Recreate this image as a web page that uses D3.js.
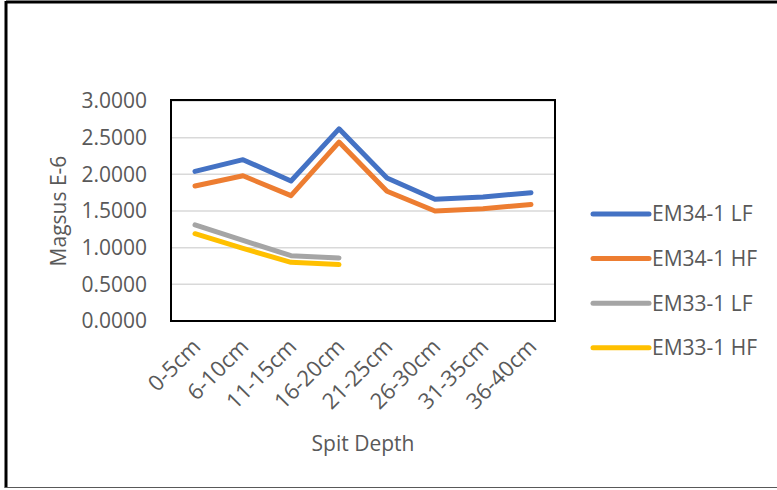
<!DOCTYPE html>
<html>
<head>
<meta charset="utf-8">
<script src="https://cdn.jsdelivr.net/npm/d3@7"></script>
<style>
  html, body { margin: 0; padding: 0; background: #fff; }
  svg { display: block; }
  text { font-family: "Open Sans", "Noto Sans", sans-serif; fill: #595959; }
</style>
</head>
<body>
<script>
// Spit depth intervals along the x axis
const depths = ["0-5cm", "6-10cm", "11-15cm", "16-20cm", "21-25cm", "26-30cm", "31-35cm", "36-40cm"];

// Magnetic susceptibility readings (E-6) per series
const em34LF = [2.04, 2.20, 1.91, 2.62, 1.95, 1.66, 1.69, 1.75];
const em34HF = [1.84, 1.98, 1.71, 2.44, 1.77, 1.50, 1.53, 1.59];
const em33LF = [1.31, 1.10, 0.89, 0.86];
const em33HF = [1.19, 0.99, 0.80, 0.77];

const seriesNames = ["EM34-1 LF", "EM34-1 HF", "EM33-1 LF", "EM33-1 HF"];
const seriesColors = ["#4472C4", "#ED7D31", "#A5A5A5", "#FFC000"];
const yTicks = [0, 0.5, 1.0, 1.5, 2.0, 2.5, 3.0];

const series = [em34LF, em34HF, em33LF, em33HF].map((vals, i) => ({
  name: seriesNames[i],
  color: seriesColors[i],
  points: vals.map((v, j) => ({ cat: depths[j], v }))
}));

const W = 777, H = 490;
const plot = { left: 171, right: 555, top: 101, bottom: 321 };

const svg = d3.select("body").append("svg").attr("width", W).attr("height", H);

// Outer chart border
svg.append("line").attr("x1", 6).attr("x2", W).attr("y1", 2).attr("y2", 2)
  .attr("stroke", "#000").attr("stroke-width", 3);
svg.append("line").attr("x1", 6).attr("x2", 6).attr("y1", 1).attr("y2", 488)
  .attr("stroke", "#000").attr("stroke-width", 3);
svg.append("line").attr("x1", 5).attr("x2", W).attr("y1", 487.5).attr("y2", 487.5)
  .attr("stroke", "#595959").attr("stroke-width", 1);

const x = d3.scaleBand().domain(depths).range([plot.left, plot.right]);
const y = d3.scaleLinear().domain([0, 3]).range([plot.bottom, plot.top]);
const cx = c => x(c) + x.bandwidth() / 2;

// Horizontal gridlines
svg.append("g").selectAll("line").data(yTicks.filter(t => t > 0)).join("line")
  .attr("x1", plot.left).attr("x2", plot.right)
  .attr("y1", d => y(d)).attr("y2", d => y(d))
  .attr("stroke", "#D9D9D9").attr("stroke-width", 1.5);

// Y axis tick labels
const yAxis = d3.axisLeft(y).tickValues(yTicks).tickFormat(d3.format(".4f")).tickSize(0).tickPadding(0);
const gy = svg.append("g").attr("transform", `translate(${147},0)`).call(yAxis);
gy.select(".domain").remove();
gy.selectAll("text").attr("font-size", 21).attr("fill", "#595959")
  .style("font-family", '"Open Sans", sans-serif');

// X axis category labels, rotated
const xAxis = d3.axisBottom(x).tickSize(0).tickPadding(0);
const gx = svg.append("g").attr("transform", `translate(0,${plot.bottom})`).call(xAxis);
gx.select(".domain").remove();
gx.selectAll("text")
  .attr("font-size", 22).attr("fill", "#595959")
  .style("font-family", '"Open Sans", sans-serif')
  .attr("text-anchor", "end")
  .attr("dy", 0)
  .attr("transform", "translate(7,27) rotate(-45)");

// Plot area frame
svg.append("rect")
  .attr("x", plot.left).attr("y", plot.top - 1)
  .attr("width", plot.right - plot.left).attr("height", plot.bottom - plot.top + 1)
  .attr("fill", "none").attr("stroke", "#000").attr("stroke-width", 2);

// Series lines
const line = d3.line().x(d => cx(d.cat)).y(d => y(d.v));
svg.append("g").selectAll("path").data(series).join("path")
  .attr("d", d => line(d.points))
  .attr("fill", "none")
  .attr("stroke", d => d.color)
  .attr("stroke-width", 5)
  .attr("stroke-linejoin", "round")
  .attr("stroke-linecap", "round");

// Axis titles
svg.append("text")
  .attr("x", (plot.left + plot.right) / 2).attr("y", 451)
  .attr("text-anchor", "middle").attr("font-size", 21)
  .text("Spit Depth");
svg.append("text")
  .attr("transform", `translate(66,211) rotate(-90)`)
  .attr("text-anchor", "middle").attr("font-size", 21)
  .text("Magsus E-6");

// Legend
const legend = svg.append("g").selectAll("g").data(series).join("g")
  .attr("transform", (d, i) => `translate(593,${214 + i * 44.6})`);
legend.append("line")
  .attr("x1", 0).attr("x2", 56).attr("y1", 0).attr("y2", 0)
  .attr("stroke", d => d.color).attr("stroke-width", 5).attr("stroke-linecap", "round");
legend.append("text")
  .attr("x", 59).attr("y", 0).attr("dy", "0.35em")
  .attr("font-size", 21)
  .text(d => d.name);
</script>
</body>
</html>
